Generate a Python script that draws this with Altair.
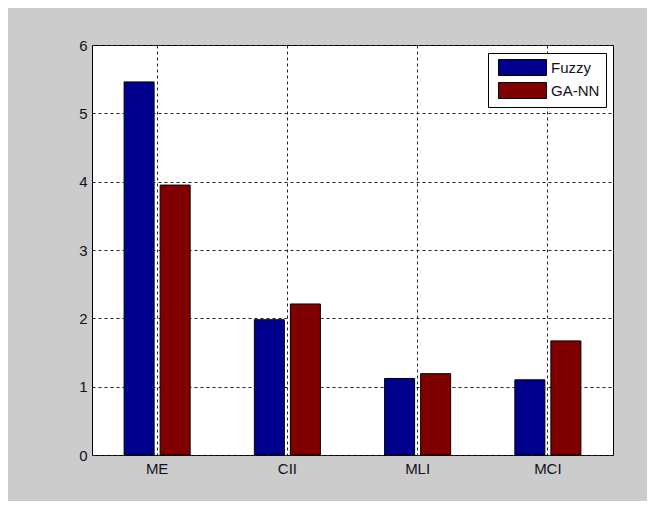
import altair as alt
import pandas as pd

categories = ["ME", "CII", "MLI", "MCI"]
fuzzy = [5.46, 1.98, 1.12, 1.10]
ga_nn = [3.95, 2.21, 1.19, 1.67]
series = ["Fuzzy", "GA-NN"]
colors = ["#00008F", "#800000"]
y_ticks = [0, 1, 2, 3, 4, 5, 6]

rows = []
for c, f, g in zip(categories, fuzzy, ga_nn):
    rows.append({"cat": c, "series": "Fuzzy", "value": f})
    rows.append({"cat": c, "series": "GA-NN", "value": g})
df = pd.DataFrame(rows)

FONT = "Liberation Sans"

chart = alt.Chart(df).mark_bar(stroke="black", strokeWidth=1).encode(
    x=alt.X("cat:N", sort=categories, title=None,
            scale=alt.Scale(paddingInner=0.493, paddingOuter=0.2465),
            axis=alt.Axis(labelAngle=0, ticks=False, grid=True, domain=False,
                          labelPadding=6)),
    xOffset=alt.XOffset("series:N", sort=series,
                        scale=alt.Scale(paddingInner=0.1667, paddingOuter=0)),
    y=alt.Y("value:Q", title=None,
            scale=alt.Scale(domain=[0, 6], nice=False),
            axis=alt.Axis(values=y_ticks, ticks=False, grid=True, domain=False,
                          labelPadding=5, format="d")),
    color=alt.Color("series:N", sort=series,
                    scale=alt.Scale(domain=series, range=colors),
                    legend=alt.Legend(title=None, orient="none",
                                      legendX=396, legendY=8,
                                      fillColor="white", strokeColor="black",
                                      padding=6,
                                      symbolType="M-0.5,-1H5.5V1H-0.5Z",
                                      symbolSize=256,
                                      symbolStrokeColor="black",
                                      symbolStrokeWidth=1,
                                      labelOffset=40,
                                      rowPadding=2,
                                      labelFontSize=15,
                                      labelFont=FONT,
                                      labelColor="#111122")),
).properties(
    width=521, height=410,
    background="#CCCCCC",
    padding={"left": 84, "top": 37, "right": 34, "bottom": 46},
    autosize=alt.AutoSizeParams(type="none"),
).configure_view(
    stroke="black", strokeWidth=1, fill="white"
).configure_axis(
    gridColor="#222222", gridDash=[3, 3], gridWidth=1, gridOpacity=1,
    labelFont=FONT, labelFontSize=15, labelColor="#111122",
)

chart.save("out.html", embed_options={"renderer": "svg", "actions": False})
